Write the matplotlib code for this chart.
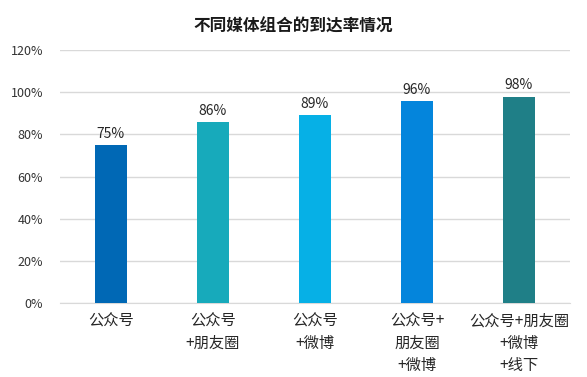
import matplotlib.pyplot as plt

plt.rcParams['font.family'] = ['Noto Sans CJK SC', 'DejaVu Sans']

# data
categories = ['公众号', '公众号\n+朋友圈', '公众号\n+微博', '公众号+\n朋友圈\n+微博', '公众号+朋友圈\n+微博\n+线下']
values = [75, 86, 89, 96, 98]
colors = ['#0068B5', '#17AABB', '#06B0E6', '#0485DC', '#1F7F87']

fig = plt.figure(figsize=(5.87, 3.77), dpi=100)
ax = fig.add_axes([0.102, 0.196, 0.869, 0.671])

x = range(len(categories))
bars = ax.bar(x, values, width=0.32, color=colors, zorder=3)

for xi, v in zip(x, values):
    ax.text(xi, v + 2, f'{v}%', ha='center', va='bottom', fontsize=10, color='#262626')

ax.set_xlim(-0.5, len(categories) - 0.5)
ax.set_ylim(0, 120)
ax.set_yticks(range(0, 121, 20))
ax.set_yticklabels([f'{t}%' for t in range(0, 121, 20)], fontsize=9, color='#333333')
ax.set_xticks(list(x))
ax.set_xticklabels(categories, fontsize=11, color='#262626', linespacing=1.38, va='top')
ax.tick_params(axis='both', length=0)
ax.tick_params(axis='x', pad=7)
ax.tick_params(axis='y', pad=12)
ax.grid(axis='y', color='#D9D9D9', linewidth=1, zorder=0)
for s in ax.spines.values():
    s.set_visible(False)
ax.spines['bottom'].set_visible(True)
ax.spines['bottom'].set_color('#D9D9D9')

fig.text(0.5, 0.928, '不同媒体组合的到达率情况', ha='center', va='center', fontsize=12, fontweight='bold', color='#1a1a1a')

fig.savefig('out.png', dpi=100)
